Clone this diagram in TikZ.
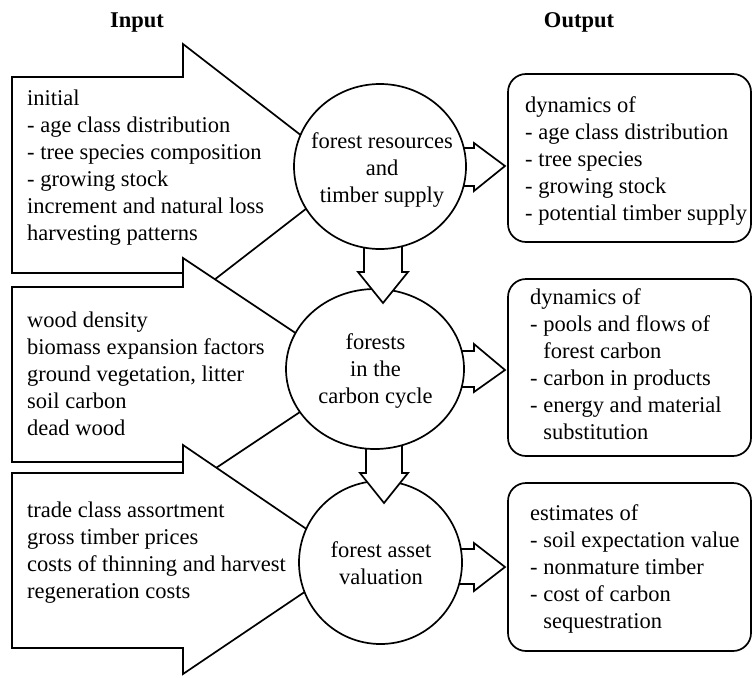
\documentclass[tikz,border=0pt]{standalone}
\usepackage{fontspec}
\setmainfont{Liberation Serif}
\usetikzlibrary{positioning, shapes.geometric, calc}

\tikzset{
  blockarrow/.style={draw, fill=white, line width=1.7pt, line join=miter},
  part/.style={ellipse, draw, fill=white, line width=1.7pt, inner sep=0pt},
  outbox/.style={draw, rounded corners=18pt, line width=1.7pt, minimum width=243pt, inner sep=0pt},
  listtext/.style={inner sep=0pt, align=left, anchor=west},
  parttext/.style={inner sep=0pt, align=center},
  heading/.style={font=\fontsize{22.5}{27}\selectfont\bfseries, inner sep=0pt, anchor=base},
}

\begin{document}
\begin{tikzpicture}[x=1pt, y=-1pt, font=\fontsize{22.5}{27}\selectfont]
  \useasboundingbox (0,0) rectangle (754,677);

  % centres of the three parts
  \coordinate (m1) at (380,166.5);
  \coordinate (m2) at (375,369);
  \coordinate (m3) at (380.5,562.5);

  \node[heading] (hin) at (137,28) {Input};
  \node[heading] (hout) at (579,28) {Output};

  % input arrows, each one over the one before
  \foreach \t/\b/\ht/\hb/\tx/\ty in {77/273/44/304/351/174, 287/462/258/490/357/374, 473/648/445/674/352/560}{
    \draw[blockarrow] (12,\t) -- (183,\t) -- (183,\ht) -- (\tx,\ty) -- (183,\hb) -- (183,\b) -- (12,\b) -- cycle;
  }
  \node[listtext] (in1) at (27,167.3) {initial\\- age class distribution\\- tree species composition\\- growing stock\\increment and natural loss\\harvesting patterns};
  \node[listtext] (in2) at (27,373.8) {wood density\\biomass expansion factors\\ground vegetation, litter\\soil carbon\\dead wood};
  \node[listtext] (in3) at (27,552.8) {trade class assortment\\gross timber prices\\costs of thinning and harvest\\regeneration costs};

  % output boxes
  \node[outbox, minimum height=168pt] (o1) at (629.5,158) {};
  \node[outbox, minimum height=177pt] (o2) at (629.5,367.5) {};
  \node[outbox, minimum height=168pt] (o3) at (629.5,567) {};
  \node[listtext] (out1) at (525,160.7) {dynamics of\\- age class distribution\\- tree species\\- growing stock\\- potential timber supply};
  \node[listtext] (out2) at (530,363.8) {dynamics of\\- pools and flows of\\\hphantom{- }forest carbon\\- carbon in products\\- energy and material\\\hphantom{- }substitution};
  \node[listtext] (out3) at (530,568.9) {estimates of\\- soil expectation value\\- nonmature timber\\- cost of carbon\\\hphantom{- }sequestration};

  % arrows from the parts to the outputs
  \foreach \t/\b/\ht/\hb/\ty in {148/186/143/191/166, 351/387/344/392/370, 549/584/543/591/567}{
    \draw[blockarrow] (440,\t) -- (474,\t) -- (474,\ht) -- (505,\ty) -- (474,\hb) -- (474,\b) -- (440,\b);
  }

  % parts, bottom first so that each down arrow lies over the next part
  \node[part, minimum width=163pt, minimum height=163pt] (c3) at (m3) {};
  \node[parttext] (c3t) at (381,563.3) {forest asset\\valuation};
  \draw[blockarrow] (366,420) -- (366,473) -- (360,473) -- (384,503) -- (408,473) -- (402,473) -- (402,420);

  \node[part, minimum width=178pt, minimum height=160pt] (c2) at (m2) {};
  \node[parttext] (c2t) at (375.5,370.8) {forests\\in the\\carbon cycle};
  \draw[blockarrow] (364,220) -- (364,272) -- (358,272) -- (383,303) -- (408,272) -- (402,272) -- (402,220);

  \node[part, minimum width=172pt, minimum height=165pt] (c1) at (m1) {};
  \node[parttext] (c1t) at (382,170) {forest resources\\and\\timber supply};
\end{tikzpicture}
\end{document}
